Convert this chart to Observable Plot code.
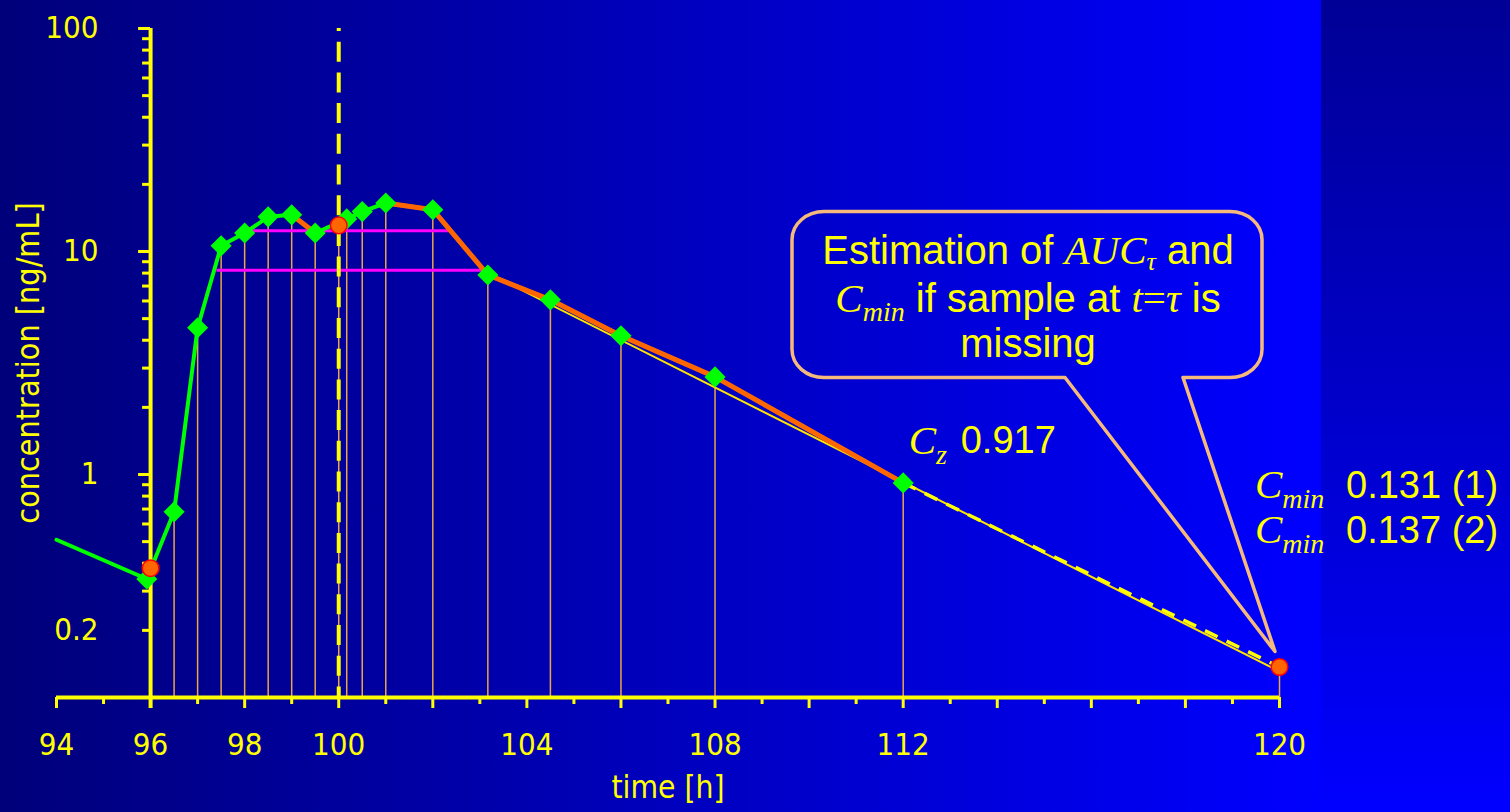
<!DOCTYPE html>
<html><head><meta charset="utf-8">
<script src="https://cdn.jsdelivr.net/npm/d3@7"></script>
<script src="https://cdn.jsdelivr.net/npm/@observablehq/plot@0.6"></script>
<style>
html,body{margin:0;padding:0;overflow:hidden;background:#0000ff;}
#wrap{position:relative;width:1510px;height:812px;background:linear-gradient(to right,#00007a 0px,#0000ff 1321px);}
#strip{position:absolute;left:1321px;top:0;width:189px;height:812px;background:linear-gradient(to bottom,#000096,#0000ff);}
#chart{position:absolute;left:0;top:0;}
</style></head>
<body><div id="wrap"><div id="strip"></div><div id="chart"></div></div>
<script>
// ---------- data ----------
const priorTime = [94];
const priorConc = [0.51];
const sampleTime = [95.92, 96.5, 97, 97.5, 98, 98.5, 99, 99.5, 100.17, 100.5, 101, 102, 103.17, 104.5, 106, 108, 112];
const sampleConc = [0.34, 0.68, 4.55, 10.6, 12.1, 14.3, 14.6, 12.1, 14.0, 15.1, 16.5, 15.4, 7.85, 6.07, 4.19, 2.74, 0.917];
const estTime = [96, 100, 120];
const estConc = [0.38, 13.1, 0.137];
const fitTime = [103.17, 120];
const fitConc = [8.0, 0.131];
const extrapTime = [112, 120];
const extrapConc = [0.917, 0.137];
const levelConc = [8.25, 12.4];
const levelStart = [97.4, 98.16];
const levelEnd = [103.09, 102.33];
const tau = 100;
const intervalStart = 96;
const xTicksMajor = [94, 96, 98, 100, 102, 104, 106, 108, 110, 112, 114, 116, 118, 120];
const xTicksMinor = [95, 97, 99, 101, 103, 105, 107, 109, 111, 113, 115, 117, 119];
const xTickLabels = [94, 96, 98, 100, 104, 108, 112, 120];
const yTicksMajor = [1, 10, 100];
const yTicksMinor = [0.2, 0.3, 0.4, 0.5, 0.6, 0.7, 0.8, 0.9, 2, 3, 4, 5, 6, 7, 8, 9, 20, 30, 40, 50, 60, 70, 80, 90];
const yTickLabels = [0.2, 1, 10, 100];
const czLabel = "0.917";
const cminLabels = ["0.131 (1)", "0.137 (2)"];

// ---------- derived tables ----------
const samples = sampleTime.map((t, i) => ({t, c: sampleConc[i]}));
const curve = priorTime.map((t, i) => ({t, c: priorConc[i]})).concat(samples);
const est = estTime.map((t, i) => ({t, c: estConc[i]}));
const down = [];
for (let i = 0; i < samples.length - 1; i++) {
  if (samples[i].t >= intervalStart && samples[i + 1].c < samples[i].c)
    down.push({t1: samples[i].t, c1: samples[i].c, t2: samples[i + 1].t, c2: samples[i + 1].c});
}
const verticals = samples.filter(d => d.t > intervalStart).concat(est.filter(d => d.t > intervalStart));
const levels = levelConc.map((c, i) => ({c, t1: levelStart[i], t2: levelEnd[i]}));
const fit = [{t1: fitTime[0], c1: fitConc[0], t2: fitTime[1], c2: fitConc[1]}];
const extrap = [{t1: extrapTime[0], c1: extrapConc[0], t2: extrapTime[1], c2: extrapConc[1]}];

// ---------- styles ----------
const yellow = "#ffff00";
const tickFont = "'DejaVu Sans Condensed', 'DejaVu Sans', sans-serif";
const sans = "'Liberation Sans', Arial, sans-serif";
const serif = "'Liberation Serif', 'Times New Roman', serif";

// one <text> element; each line = array of parts; lines restart at x with dy
function richBlock(g, x, y, anchor, lines, gaps) {
  const t = g.append("text").attr("x", x).attr("y", y).attr("text-anchor", anchor)
    .attr("fill", yellow).style("white-space", "pre");
  let shift = 0;
  lines.forEach((parts, li) => {
    parts.forEach((p, pi) => {
      const s = t.append("tspan").text(p.text)
        .attr("font-family", p.serif ? serif : sans)
        .attr("font-size", p.size)
        .attr("font-style", p.italic ? "italic" : "normal");
      const target = p.sub || 0;
      let dy = target - shift;
      if (pi === 0 && li > 0) { s.attr("x", x); dy += gaps[li - 1]; }
      if (dy !== 0) s.attr("dy", dy);
      shift = target;
    });
  });
  return t;
}

function annotations(index, scales) {
  const {x, y} = scales;
  const g = d3.create("svg:g");
  // callout bubble anchored on the estimated Cmin point
  const tipX = x(estTime[2]) - 4, tipY = y(estConc[2]) - 15;
  const L = tipX - 483, R = tipX - 13, T = tipY - 440, B = tipY - 274;
  const a = tipX - 210, b = tipX - 92, rx = 32, ry = 28;
  const path = `M${a},${B} L${tipX},${tipY} L${b},${B} L${R - rx},${B} A${rx},${ry} 0 0 0 ${R},${B - ry} L${R},${T + ry} A${rx},${ry} 0 0 0 ${R - rx},${T} L${L + rx},${T} A${rx},${ry} 0 0 0 ${L},${T + ry} L${L},${B - ry} A${rx},${ry} 0 0 0 ${L + rx},${B} Z`;
  g.append("path").attr("d", path).attr("fill", "none").attr("stroke", "#f6b97c")
    .attr("stroke-width", 3.5).attr("stroke-linejoin", "round");
  const cx = (L + R) / 2 + 1;
  richBlock(g, cx, T + 52, "middle", [
    [
      {text: "Estimation of ", size: 40},
      {text: "AUC", serif: true, italic: true, size: 41},
      {text: "τ", serif: true, italic: true, size: 26, sub: 6},
      {text: " and", size: 40}
    ],
    [
      {text: "C", serif: true, italic: true, size: 41},
      {text: "min", serif: true, italic: true, size: 28, sub: 9},
      {text: " if sample at ", size: 40},
      {text: "t", serif: true, italic: true, size: 41},
      {text: "=", serif: true, size: 41},
      {text: "τ", serif: true, italic: true, size: 41},
      {text: " is", size: 40}
    ],
    [{text: "missing", size: 40}]
  ], [48, 45]);

  // C_z label next to last sample
  const zx = x(sampleTime[sampleTime.length - 1]), zy = y(sampleConc[sampleConc.length - 1]);
  richBlock(g, zx + 6, zy - 28, "start", [[
    {text: "C", serif: true, italic: true, size: 41},
    {text: "z", serif: true, italic: true, size: 28, sub: 10}
  ]], []);
  richBlock(g, zx + 58, zy - 29, "start", [[{text: czLabel, size: 38}]], []);

  // Cmin labels (symbol column and value column)
  const mx = x(estTime[2]);
  const by = y(1) + 24;
  richBlock(g, mx - 24, by, "start", cminLabels.map(() => [
    {text: "C", serif: true, italic: true, size: 41},
    {text: "min", serif: true, italic: true, size: 28, sub: 10}
  ]), [45]);
  richBlock(g, mx + 67, by, "start", cminLabels.map(lab => [{text: lab, size: 38}]), [45]);
  return g.node();
}

const chart = Plot.plot({
  width: 1510, height: 812,
  marginLeft: 56, marginRight: 231, marginTop: 28, marginBottom: 115,
  x: {domain: [94, 120], axis: null},
  y: {type: "log", domain: [0.1, 100], axis: null},
  style: {background: "transparent", overflow: "visible"},
  marks: [
    Plot.ruleX(verticals, {x: "t", y1: 0.1, y2: "c", stroke: "#eba447", strokeWidth: 1.5}),
    Plot.link(levels, {x1: "t1", x2: "t2", y1: "c", y2: "c", stroke: "#ff00ff", strokeWidth: 3}),
    Plot.ruleX([tau], {x: d => d, y1: 100, y2: 0.1, stroke: yellow, strokeWidth: 4, strokeDasharray: "20,10.7", strokeDashoffset: 17}),
    Plot.link(fit, {x1: "t1", y1: "c1", x2: "t2", y2: "c2", stroke: "#ffe400", strokeWidth: 2}),
    Plot.link(extrap, {x1: "t1", y1: "c1", x2: "t2", y2: "c2", stroke: yellow, strokeWidth: 3.5, strokeDasharray: "14,10"}),
    Plot.line(curve, {x: "t", y: "c", stroke: "#00ff00", strokeWidth: 4, strokeLinejoin: "round"}),
    Plot.link(down, {x1: "t1", y1: "c1", x2: "t2", y2: "c2", stroke: "#ff6600", strokeWidth: 5, strokeLinecap: "round"}),
    // axes
    Plot.ruleY([0.1], {y: d => d, x1: 94, x2: 120, stroke: yellow, strokeWidth: 4}),
    Plot.ruleX([intervalStart], {x: d => d, y1: 100, y2: 0.1, insetBottom: -11, stroke: yellow, strokeWidth: 4}),
    Plot.ruleX(xTicksMajor, {x: d => d, y1: 0.1, y2: 0.1, insetBottom: -11, stroke: yellow, strokeWidth: 3}),
    Plot.ruleX(xTicksMinor, {x: d => d, y1: 0.1, y2: 0.1, insetBottom: -7, stroke: yellow, strokeWidth: 3}),
    Plot.ruleY(yTicksMajor, {y: d => d, x1: intervalStart, x2: intervalStart, insetLeft: -12, stroke: yellow, strokeWidth: 3}),
    Plot.ruleY(yTicksMinor, {y: d => d, x1: intervalStart, x2: intervalStart, insetLeft: -8, stroke: yellow, strokeWidth: 3}),
    Plot.text(yTickLabels, {x: intervalStart, y: d => d, text: d => String(d), textAnchor: "end", dx: -52, fill: yellow, fontSize: 31, fontFamily: tickFont}),
    Plot.text(xTickLabels, {x: d => d, y: 0.1, text: d => String(d), dy: 48, fill: yellow, fontSize: 31, fontFamily: tickFont}),
    Plot.text(["concentration [ng/mL]"], {frameAnchor: "left", textAnchor: "middle", dx: -28, rotate: -90, fill: yellow, fontSize: 32, fontFamily: tickFont}),
    Plot.text(["time [h]"], {frameAnchor: "bottom", textAnchor: "middle", dy: 100, fill: yellow, fontSize: 31.5, fontFamily: tickFont}),
    // points
    Plot.dot(samples, {x: "t", y: "c", symbol: "diamond2", r: 9.5, fill: "#00ff00"}),
    Plot.dot(est, {x: "t", y: "c", r: 8.3, fill: "#ff6600", stroke: "#ff0000", strokeWidth: 1.5}),
    annotations
  ]
});
document.getElementById("chart").appendChild(chart);
</script>
</body></html>
